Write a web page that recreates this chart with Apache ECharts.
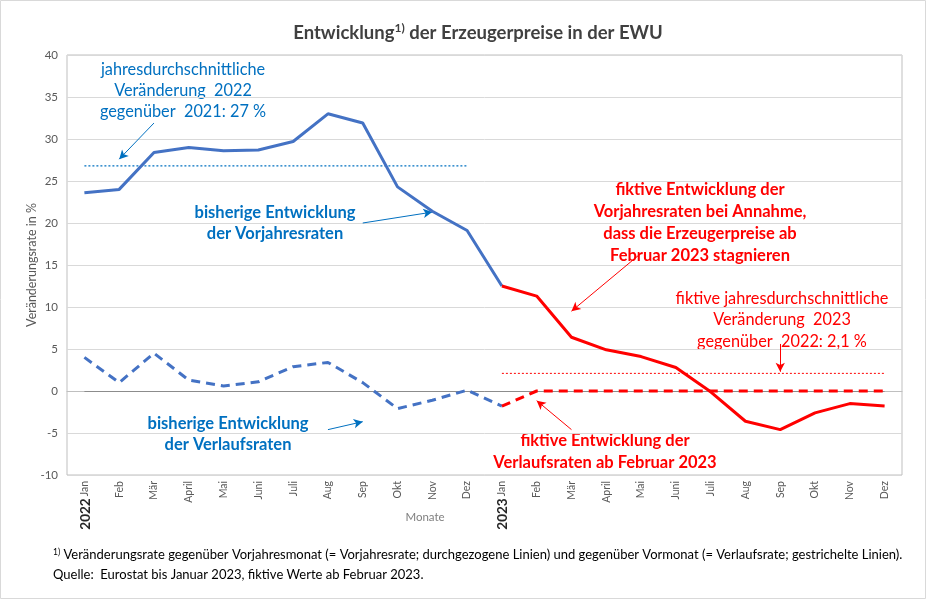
<!DOCTYPE html>
<html><head><meta charset="utf-8">
<script src="https://cdn.jsdelivr.net/npm/echarts@6/dist/echarts.min.js"></script>
<style>html,body{margin:0;padding:0;background:#fff}#c{width:927px;height:600px}</style>
</head><body><div id="c"></div>
<script>
const months = ['Jan','Feb','Mär','April','Mai','Juni','Juli','Aug','Sep','Okt','Nov','Dez'];
const categories = months.concat(months);
const yTicks = [-10,-5,0,5,10,15,20,25,30,35,40];
// Vorjahresrate (Eurostat, Jan 2022 - Jan 2023)
const vorjahrIst = [23.6,24.0,28.4,29.0,28.6,28.7,29.7,33.0,31.9,24.3,21.4,19.1,12.5];
// fiktive Vorjahresrate (Jan 2023 - Dez 2023)
const vorjahrFiktiv = [12.5,11.3,6.4,4.9,4.1,2.8,-0.1,-3.6,-4.6,-2.6,-1.5,-1.8];
// Verlaufsrate (Jan 2022 - Jan 2023)
const verlaufIst = [4.0,1.0,4.5,1.3,0.6,1.1,2.9,3.4,1.0,-2.1,-1.1,0.1,-1.8];
// fiktive Verlaufsrate (Jan 2023 - Dez 2023)
const verlaufFiktiv = [-1.8,0,0,0,0,0,0,0,0,0,0,0];
const avg2022 = 26.8;
const avg2023 = 2.1;

const pad = (arr, before, total) => {
  const out = new Array(total).fill(null);
  arr.forEach((v,i)=>{ out[before+i] = v; });
  return out;
};
const N = categories.length;
const blue = '#4472C4', red = '#FF0000', tblue = '#0070C0';
const FONT = 'Lato, "Open Sans", sans-serif';

const arrow = (color, from, to) => ({
  silent: true, symbol: ['none','arrow'], symbolSize: [7,9],
  label: {show:false},
  lineStyle: {color: color, width: 1, type: 'solid'},
  data: [[{coord: from}, {coord: to}]]
});

const chart = echarts.init(document.getElementById('c'));
chart.setOption({
  animation: false,
  textStyle: {fontFamily: FONT},
  grid: {left: 67, right: 25, top: 55, bottom: 125, show: true, borderColor: '#bfbfbf', borderWidth: 1},
  xAxis: {
    type: 'category', data: categories, boundaryGap: true,
    axisLine: {show: true, lineStyle: {color: '#bfbfbf'}},
    axisTick: {show: false},
    axisLabel: {rotate: 90, fontSize: 10.5, color: '#595959', margin: 6, interval: 0, fontFamily: FONT}
  },
  yAxis: {
    type: 'value', min: yTicks[0], max: yTicks[yTicks.length-1], interval: 5,
    axisLine: {show: false}, axisTick: {show: false},
    axisLabel: {fontSize: 11.5, color: '#595959', margin: 9, fontFamily: FONT},
    splitLine: {lineStyle: {color: '#d9d9d9', width: 1}}
  },
  series: [
    {type: 'line', data: pad([0], 0, N), symbol: 'none', lineStyle: {width: 0}, silent: true,
     markLine: {silent: true, symbol: 'none', label: {show: false},
       lineStyle: {color: '#8c8c8c', width: 1, type: 'solid'},
       data: [[{coord: [0, 0]}, {coord: [N-1, 0]}]]}},
    {name: 'avg2022', type: 'line', data: pad(new Array(12).fill(avg2022), 0, N), symbol: 'none',
     lineStyle: {color: tblue, width: 1.2, type: [2,2]},
     markLine: arrow(tblue, [1.52, 31.9], [0.75, 27.6])},
    {name: 'avg2023', type: 'line', data: pad(new Array(12).fill(avg2023), 12, N), symbol: 'none',
     lineStyle: {color: red, width: 1, type: [2,2]},
     markLine: arrow(red, [19.95, 5.6], [20.13, 2.3])},
    {name: 'vorjahrIst', type: 'line', data: pad(vorjahrIst, 0, N), symbol: 'none',
     lineStyle: {color: blue, width: 3}, z: 5,
     markLine: arrow(tblue, [8.08, 20.0], [9.66, 21.3])},
    {name: 'vorjahrFiktiv', type: 'line', data: pad(vorjahrFiktiv, 12, N), symbol: 'none',
     lineStyle: {color: red, width: 3}, z: 5,
     markLine: arrow(red, [16.13, 16.4], [13.6, 9.5])},
    {name: 'verlaufIst', type: 'line', data: pad(verlaufIst, 0, N), symbol: 'none',
     lineStyle: {color: blue, width: 3, type: [9,6]}, z: 5,
     markLine: arrow(tblue, [6.58, -4.6], [8.45, -3.65])},
    {name: 'verlaufFiktiv', type: 'line', data: pad(verlaufFiktiv, 12, N), symbol: 'none',
     lineStyle: {color: red, width: 3, type: [9,6]}, z: 5,
     markLine: arrow(red, [13.89, -4.6], [12.88, -1.15])}
  ],
  graphic: [
    {type: 'rect', shape: {x: 0.5, y: 0.5, width: 925, height: 598}, style: {fill: 'none', stroke: '#d9d9d9', lineWidth: 1}, silent: true},
    {type: 'text', x: 478, y: 33, style: {
      text: '{a|Entwicklung}{s|1)}{a| der Erzeugerpreise in der EWU}', align: 'center', verticalAlign: 'middle',
      rich: {a: {fontSize: 18.5, fontWeight: 'bold', fill: '#404040', fontFamily: FONT},
             s: {fontSize: 12, fontWeight: 'bold', fill: '#404040', fontFamily: FONT, padding: [0,0,9,0]}}}},
    {type: 'text', x: 32, y: 265, rotation: Math.PI/2, style: {text: 'Veränderungsrate in %', align: 'center', verticalAlign: 'middle',
      fontSize: 12.5, fill: '#595959', fontFamily: FONT}},
    {type: 'text', x: 183, y: 91, style: {text: 'jahresdurchschnittliche\nVeränderung  2022\ngegenüber  2021: 27 %',
      align: 'center', verticalAlign: 'middle', fontSize: 16.3, lineHeight: 21, fill: tblue, fontFamily: FONT}},
    {type: 'text', x: 275, y: 223, style: {text: 'bisherige Entwicklung\nder Vorjahresraten',
      align: 'center', verticalAlign: 'middle', fontSize: 16.5, fontWeight: 'bold', lineHeight: 21, fill: tblue, fontFamily: FONT}},
    {type: 'text', x: 228, y: 434, style: {text: 'bisherige Entwicklung\nder Verlaufsraten',
      align: 'center', verticalAlign: 'middle', fontSize: 16.5, fontWeight: 'bold', lineHeight: 21, fill: tblue, fontFamily: FONT}},
    {type: 'text', x: 700, y: 223, style: {text: 'fiktive Entwicklung der\nVorjahresraten bei Annahme,\ndass die Erzeugerpreise ab\nFebruar 2023 stagnieren',
      align: 'center', verticalAlign: 'middle', fontSize: 16.5, fontWeight: 'bold', lineHeight: 22, fill: red, fontFamily: FONT}},
    {type: 'text', x: 782, y: 320, style: {text: 'fiktive jahresdurchschnittliche\nVeränderung  2023\ngegenüber  2022: 2,1 %',
      align: 'center', verticalAlign: 'middle', fontSize: 16.3, lineHeight: 21.5, fill: red, fontFamily: FONT}},
    {type: 'text', x: 605, y: 452, style: {text: 'fiktive Entwicklung der\nVerlaufsraten ab Februar 2023',
      align: 'center', verticalAlign: 'middle', fontSize: 16.5, fontWeight: 'bold', lineHeight: 22, fill: red, fontFamily: FONT}},
    {type: 'text', x: 86, y: 514, rotation: Math.PI/2, style: {text: '2022', align: 'center', verticalAlign: 'middle',
      fontSize: 13.5, fontWeight: 'bold', fill: '#262626', fontFamily: FONT}},
    {type: 'text', x: 503, y: 514, rotation: Math.PI/2, style: {text: '2023', align: 'center', verticalAlign: 'middle',
      fontSize: 13.5, fontWeight: 'bold', fill: '#262626', fontFamily: FONT}},
    {type: 'text', x: 425, y: 517, style: {text: 'Monate', align: 'center', verticalAlign: 'middle',
      fontSize: 11.5, fill: '#7f7f7f', fontFamily: FONT}},
    {type: 'text', x: 53, y: 555, style: {
      text: '{s|1)} {a|Veränderungsrate gegenüber Vorjahresmonat (= Vorjahresrate; durchgezogene Linien) und gegenüber Vormonat (= Verlaufsrate; gestrichelte Linien).}',
      verticalAlign: 'middle',
      rich: {a: {fontSize: 13, fill: '#000', fontFamily: FONT}, s: {fontSize: 8.5, fill: '#000', fontFamily: FONT, padding: [0,0,6,0]}}}},
    {type: 'text', x: 53, y: 575, style: {text: 'Quelle:  Eurostat bis Januar 2023, fiktive Werte ab Februar 2023.',
      verticalAlign: 'middle', fontSize: 13, fill: '#000', fontFamily: FONT}}
  ]
});
</script></body></html>
